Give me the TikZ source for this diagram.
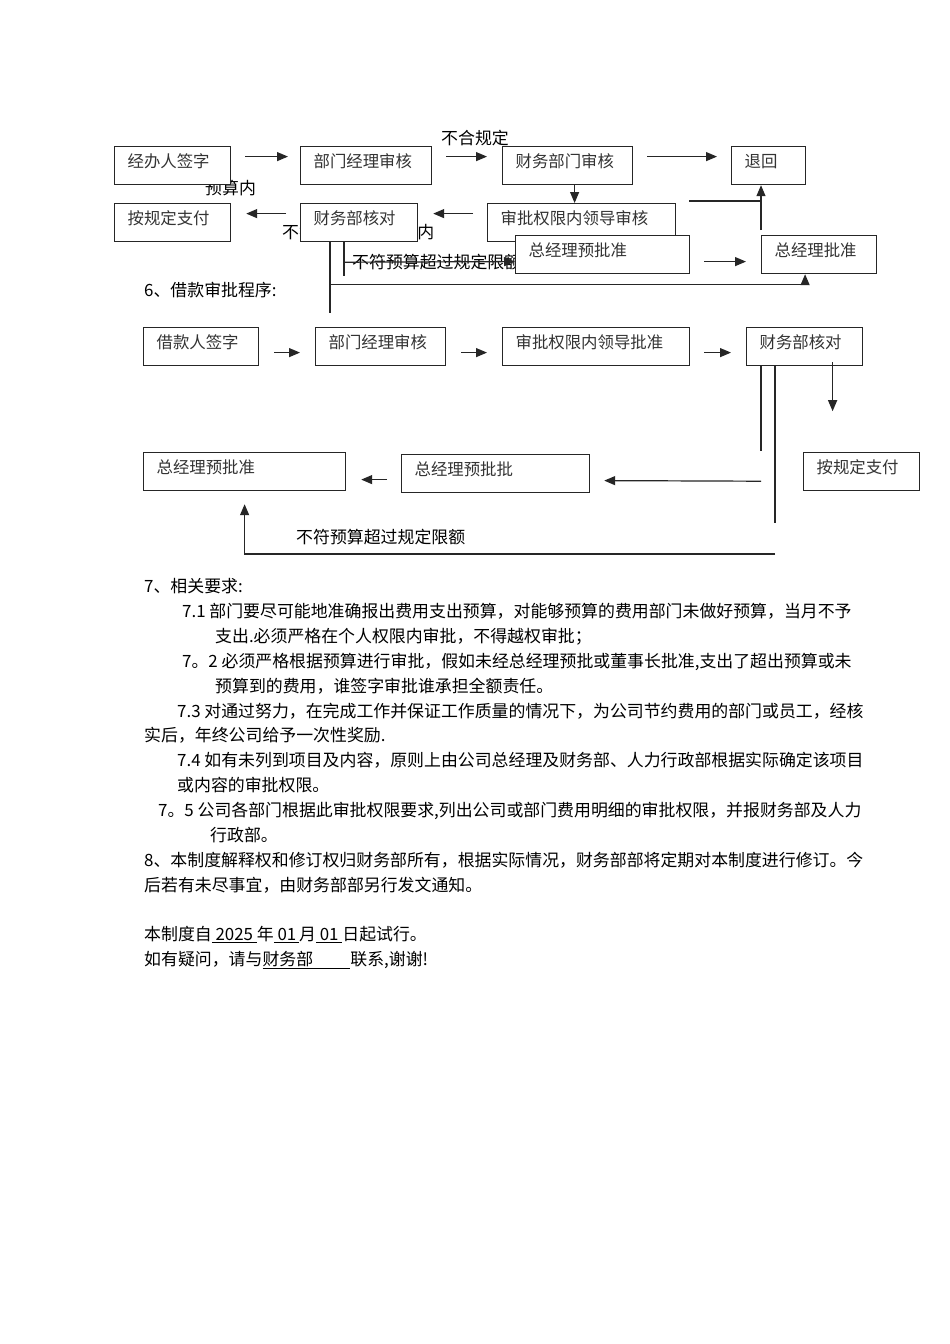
\documentclass[tikz,border=0pt]{standalone}
\usepackage{fontspec}
\setmainfont{Noto Sans CJK SC}
\usepackage{tikz}
\usetikzlibrary{arrows.meta,
                calc,
                positioning}

\newcommand\txtfnt{\fontsize{16.9}{20}\selectfont}
\newcommand\boxfnt{\fontsize{16.4}{20}\selectfont}

\tikzset{
  stage/.style={draw=black!85, line width=1.2pt, fill=white, anchor=north west,
                inner xsep=13pt, inner ysep=0pt, minimum height=38pt, align=left,
                text height=0.8em, text depth=0.45em, font=\boxfnt, text=black!80},
  flow/.style={-{Triangle[length=11pt,width=9pt]}, line width=1.2pt, draw=black!85},
  rule/.style={line width=1.2pt, draw=black!85},
  note/.style={anchor=west, inner sep=0pt, text height=0.8em, text depth=0.12em,
               font=\txtfnt, yshift=-4pt},
}

\begin{document}
\begin{tikzpicture}[x=1pt,y=-1pt]
\fill[white] (0,0) rectangle (950,1344);

% labels of the expense flow
\node[note] (rejectLbl) at (441,137) {不合规定};
\node[note] (inBudget) at (205,187) {预算内};
\node[note] (inLimit) at (282,231) {不符预算规定限额内};
\node[note] (overA) at (352,261) {不符预算超过规定限额};

% expense approval
\node[stage, text width=90pt] (sign) at (114,146) {经办人签字};
\node[stage, text width=105pt] (deptA) at (300,146) {部门经理审核};
\node[stage, text width=104pt] (finA) at (502,146) {财务部门审核};
\node[stage, text width=48pt] (back) at (731,146) {退回};
\node[stage, text width=162pt] (leadA) at (487,203) {审批权限内领导审核};
\node[stage, text width=91pt] (checkA) at (300,203) {财务部核对};
\node[stage, text width=90pt] (payA) at (114,203) {按规定支付};
\node[stage, text width=148pt] (preA) at (515,235) {总经理预批准};
\node[stage, text width=89pt] (gmA) at (761,235) {总经理批准};

\draw[flow] ([xshift=14pt,yshift=9pt]sign.east) -- ([xshift=-12pt,yshift=9pt]deptA.west);
\draw[flow] ([xshift=14pt,yshift=9pt]deptA.east) -- ([xshift=-15pt,yshift=9pt]finA.west);
\draw[flow] ([xshift=14pt,yshift=9pt]finA.east) -- ([xshift=-14pt,yshift=9pt]back.west);
\draw[flow] ([xshift=7pt]finA.south) -- ([xshift=-7pt]leadA.north);
\draw[flow] ([xshift=-14pt,yshift=9pt]leadA.west) -- ([xshift=15pt,yshift=9pt]checkA.east);
\draw[flow] ([xshift=-14pt,yshift=9pt]checkA.west) -- ([xshift=15pt,yshift=9pt]payA.east);
\draw[flow] ([xshift=14pt,yshift=-7pt]preA.east) -- ([xshift=-15pt,yshift=-7pt]gmA.west);

\coordinate (retA) at (689,201);
\draw[rule] (retA) -- (retA -| gmA.west);
\draw[flow] ([yshift=5pt]gmA.north west) -- (gmA.north west |- back.south);

\draw[rule] ([xshift=30pt]checkA.south west) -- ++(0,71);
\draw[flow] ([xshift=30pt]checkA.south west) ++(0,42) -| ([xshift=-14pt]gmA.south);
\draw[rule] ([xshift=44pt]checkA.south west) -- ++(0,34);
\draw[flow] ([xshift=44pt]checkA.south west) ++(0,20) -- ([yshift=-7pt]preA.west);

\node[note] (loanTitle) at (144,289) {6、借款审批程序:};

% loan approval
\node[note] (overB) at (296,536) {不符预算超过规定限额};

\node[stage, text width=89pt] (signB) at (143,327) {借款人签字};
\node[stage, text width=104pt] (deptB) at (315,327) {部门经理审核};
\node[stage, text width=161pt] (leadB) at (502,327) {审批权限内领导批准};
\node[stage, text width=90pt] (checkB) at (746,327) {财务部核对};
\node[stage, text width=90pt] (payB) at (803,452) {按规定支付};
\node[stage, text width=162pt] (preB) at (401,454) {总经理预批批};
\node[stage, text width=176pt] (gmB) at (143,452) {总经理预批准};

\draw[flow] ([xshift=15pt,yshift=-6pt]signB.east) -- ([xshift=-15pt,yshift=-6pt]deptB.west);
\draw[flow] ([xshift=15pt,yshift=-6pt]deptB.east) -- ([xshift=-15pt,yshift=-6pt]leadB.west);
\draw[flow] ([xshift=14pt,yshift=-6pt]leadB.east) -- ([xshift=-15pt,yshift=-6pt]checkB.west);
\draw[flow] ([xshift=28pt,yshift=4pt]checkB.south) -- ++(0,49);
\draw[rule] ([xshift=15pt]checkB.south west) -- ++(0,85);
\draw[rule] ([xshift=29pt]checkB.south west) -- ++(0,157);
\draw[flow] ([xshift=15pt]checkB.south west) ++(0,115) -- ([xshift=14pt,yshift=-7pt]preB.east);
\draw[flow] ([xshift=-14pt,yshift=-6pt]preB.west) -- ([xshift=15pt,yshift=-8pt]gmB.east);
\coordinate (loopB) at (775,554);
\draw[flow] (loopB) -| ([yshift=-13pt]gmB.south);

% requirements
\node[note] (req7) at (144,585) {7、相关要求:};
\node[note] (req71) at (182,610) {7.1 部门要尽可能地准确报出费用支出预算，对能够预算的费用部门未做好预算，当月不予};
\node[note] (req71b) at (215,635) {支出.必须严格在个人权限内审批，不得越权审批；};
\node[note] (req72) at (182,660) {7。2 必须严格根据预算进行审批，假如未经总经理预批或董事长批准,支出了超出预算或未};
\node[note] (req72b) at (215,685) {预算到的费用，谁签字审批谁承担全额责任。};
\node[note] (req73) at (177,710) {7.3 对通过努力，在完成工作并保证工作质量的情况下，为公司节约费用的部门或员工，经核};
\node[note] (req73b) at (144,734) {实后，年终公司给予一次性奖励.};
\node[note] (req74) at (177,759) {7.4 如有未列到项目及内容，原则上由公司总经理及财务部、人力行政部根据实际确定该项目};
\node[note] (req74b) at (177,784) {或内容的审批权限。};
\node[note] (req75) at (158,809) {7。5 公司各部门根据此审批权限要求,列出公司或部门费用明细的审批权限，并报财务部及人力};
\node[note] (req75b) at (210,834) {行政部。};
\node[note] (rule8) at (144,859) {8、本制度解释权和修订权归财务部所有，根据实际情况，财务部部将定期对本制度进行修订。今};
\node[note] (rule8b) at (144,884) {后若有未尽事宜，由财务部部另行发文通知。};
\node[note] (start) at (144,933) {本制度自\underline{\ 2025\ }年\underline{\ 01\,}月\underline{\ 01\ }日起试行。};
\node[note] (contact) at (144,958) {如有疑问，请与\underline{财务部\hspace{2.2em}}联系,谢谢!};
\end{tikzpicture}
\end{document}
